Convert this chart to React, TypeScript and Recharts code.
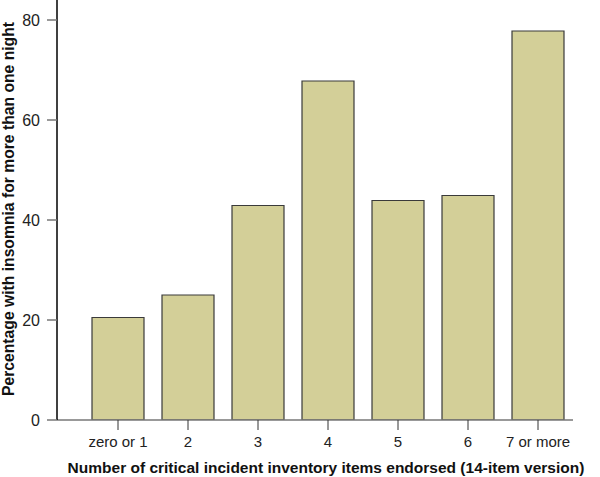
import React from 'react';
import { BarChart, Bar, XAxis, YAxis } from 'recharts';

const categories = ['zero or 1', '2', '3', '4', '5', '6', '7 or more'];
const percentages = [20.5, 25.0, 42.9, 67.8, 43.9, 44.9, 77.8];
const yTicks = [0, 20, 40, 60, 80];

const data = categories.map((c, i) => ({ name: c, value: percentages[i] }));

const FONT = 'Arial, "Liberation Sans", Helvetica, sans-serif';

const YTitle = (props: any) => {
  const vb = props.viewBox;
  const cx = vb.x + 8;
  const cy = vb.y + vb.height / 2 - 1;
  return (
    <text
      x={cx}
      y={cy}
      transform={`rotate(-90, ${cx}, ${cy})`}
      textAnchor="middle"
      dominantBaseline="central"
      fontFamily={FONT}
      fontWeight="bold"
      fontSize={15.7}
      fill="#111"
    >
      Percentage with insomnia for more than one night
    </text>
  );
};

const XTitle = (props: any) => {
  const vb = props.viewBox;
  const cx = vb.x + vb.width / 2 + 11;
  const cy = vb.y + 47;
  return (
    <text
      x={cx}
      y={cy}
      textAnchor="middle"
      dominantBaseline="central"
      fontFamily={FONT}
      fontWeight="bold"
      fontSize={15.5}
      fill="#111"
    >
      Number of critical incident inventory items endorsed (14-item version)
    </text>
  );
};

export default function App() {
  return (
    <div style={{ position: 'absolute', left: 0, top: 0, width: 600, height: 477, background: '#fff' }}>
      <BarChart
        width={600}
        height={477}
        data={data}
        margin={{ top: 0, right: 27, bottom: 0, left: 0 }}
        barCategoryGap={9}
      >
        <XAxis
          dataKey="name"
          height={57}
          padding={{ left: 26, right: 0 }}
          axisLine={{ stroke: '#777', strokeWidth: 1.5 }}
          tickLine={{ stroke: '#333' }}
          tickSize={10}
          tickMargin={6}
          tick={{ fill: '#222', fontSize: 15, fontFamily: FONT }}
          interval={0}
          label={<XTitle />}
        />
        <YAxis
          width={57}
          domain={[0, 84]}
          ticks={yTicks}
          allowDataOverflow
          axisLine={{ stroke: '#000', strokeWidth: 1.5 }}
          tickLine={{ stroke: '#777', strokeWidth: 1.5 }}
          tickSize={10}
          tickMargin={7}
          tick={{ fill: '#222', fontSize: 16, fontFamily: FONT }}
          label={<YTitle />}
        />
        <Bar
          dataKey="value"
          fill="#D3CF98"
          stroke="#3a3a3a"
          strokeWidth={1.2}
          isAnimationActive={false}
        />
      </BarChart>
    </div>
  );
}
